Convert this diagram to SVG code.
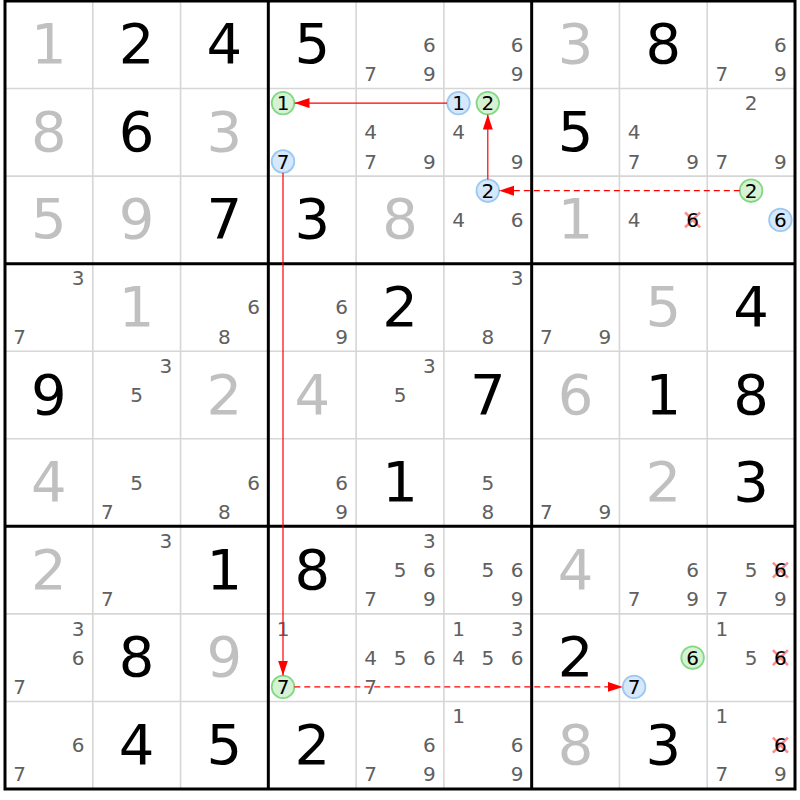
<svg xmlns="http://www.w3.org/2000/svg" width="800" height="800" viewBox="0 0 800 800">
<defs>
<style>
text{font-family:"DejaVu Sans","Verdana",sans-serif;text-anchor:middle}
.g{font-size:56px;fill:#000}
.s{font-size:56px;fill:#c0c0c0}
.c{font-size:20px;fill:#606060}
.k{font-size:20px;fill:#000}
.thin{stroke:#d6d6d6;stroke-width:1.6;fill:none}
.thick{stroke:#000;stroke-width:3;fill:none}
.gc{fill:#d5f2d5;stroke:#84d884;stroke-width:1.8}
.bc{fill:#d6e8fb;stroke:#9cc8f2;stroke-width:1.8}
.x{stroke:#ff8c8c;stroke-width:2.6}
.arr{stroke:#ff0000;stroke-width:1.2;fill:none}
.dash{stroke-dasharray:6 4}
</style>
<marker id="ah" markerUnits="userSpaceOnUse" markerWidth="16" markerHeight="11" refX="15" refY="5" orient="auto">
<path d="M0,0 L15,5 L0,10 z" fill="#ff0000"/>
</marker>
</defs>
<rect x="0" y="0" width="800" height="800" fill="#fff"/>
<g id="grid">
<path class="thin" d="M92.78,1V789M180.56,1V789M356.11,1V789M443.89,1V789M619.44,1V789M707.22,1V789M5,88.56H795M5,176.11H795M5,351.22H795M5,438.78H795M5,613.89H795M5,701.44H795"/>
<path class="thick" d="M268.33,1V789M531.67,1V789M5,263.67H795M5,526.33H795"/>
<rect class="thick" x="5" y="1" width="790" height="788"/>
</g>
<g id="highlights">
<circle class="gc" cx="283" cy="103.1" r="11.3"/>
<circle class="bc" cx="283" cy="161.5" r="11.3"/>
<circle class="bc" cx="458.5" cy="103.1" r="11.3"/>
<circle class="gc" cx="487.8" cy="103.1" r="11.3"/>
<circle class="bc" cx="487.8" cy="190.7" r="11.3"/>
<circle class="gc" cx="751.1" cy="190.7" r="11.3"/>
<circle class="bc" cx="780.4" cy="219.9" r="11.3"/>
<circle class="gc" cx="283" cy="686.9" r="11.3"/>
<circle class="bc" cx="634.1" cy="686.9" r="11.3"/>
<circle class="gc" cx="692.6" cy="657.7" r="11.3"/>
<path class="x" d="M685.1,212.4l15,15m0,-15l-15,15M772.9,562.6l15,15m0,-15l-15,15M772.9,650.2l15,15m0,-15l-15,15M772.9,737.7l15,15m0,-15l-15,15"/>
</g>
<g id="row0">
<g id="r0c0"><text class="s" x="48.89" y="63.3">1</text></g>
<g id="r0c1"><text class="g" x="136.67" y="63.3">2</text></g>
<g id="r0c2"><text class="g" x="224.44" y="63.3">4</text></g>
<g id="r0c3"><text class="g" x="312.22" y="63.3">5</text></g>
<g id="r0c4"><text class="c" x="429.3" y="51.8">6</text><text class="c" x="370.7" y="81">7</text><text class="c" x="429.3" y="81">9</text></g>
<g id="r0c5"><text class="c" x="517" y="51.8">6</text><text class="c" x="517" y="81">9</text></g>
<g id="r0c6"><text class="s" x="575.56" y="63.3">3</text></g>
<g id="r0c7"><text class="g" x="663.33" y="63.3">8</text></g>
<g id="r0c8"><text class="c" x="780.4" y="51.8">6</text><text class="c" x="721.9" y="81">7</text><text class="c" x="780.4" y="81">9</text></g>
</g>
<g id="row1">
<g id="r1c0"><text class="s" x="48.89" y="150.8">8</text></g>
<g id="r1c1"><text class="g" x="136.67" y="150.8">6</text></g>
<g id="r1c2"><text class="s" x="224.44" y="150.8">3</text></g>
<g id="r1c3"><text class="k" x="283" y="110.1">1</text><text class="k" x="283" y="168.5">7</text></g>
<g id="r1c4"><text class="c" x="370.7" y="139.3">4</text><text class="c" x="370.7" y="168.5">7</text><text class="c" x="429.3" y="168.5">9</text></g>
<g id="r1c5"><text class="k" x="458.5" y="110.1">1</text><text class="k" x="487.8" y="110.1">2</text><text class="c" x="458.5" y="139.3">4</text><text class="c" x="517" y="168.5">9</text></g>
<g id="r1c6"><text class="g" x="575.56" y="150.8">5</text></g>
<g id="r1c7"><text class="c" x="634.1" y="139.3">4</text><text class="c" x="634.1" y="168.5">7</text><text class="c" x="692.6" y="168.5">9</text></g>
<g id="r1c8"><text class="c" x="751.1" y="110.1">2</text><text class="c" x="721.9" y="168.5">7</text><text class="c" x="780.4" y="168.5">9</text></g>
</g>
<g id="row2">
<g id="r2c0"><text class="s" x="48.89" y="238.4">5</text></g>
<g id="r2c1"><text class="s" x="136.67" y="238.4">9</text></g>
<g id="r2c2"><text class="g" x="224.44" y="238.4">7</text></g>
<g id="r2c3"><text class="g" x="312.22" y="238.4">3</text></g>
<g id="r2c4"><text class="s" x="400" y="238.4">8</text></g>
<g id="r2c5"><text class="k" x="487.8" y="197.7">2</text><text class="c" x="458.5" y="226.9">4</text><text class="c" x="517" y="226.9">6</text></g>
<g id="r2c6"><text class="s" x="575.56" y="238.4">1</text></g>
<g id="r2c7"><text class="c" x="634.1" y="226.9">4</text><text class="k" x="692.6" y="226.9">6</text></g>
<g id="r2c8"><text class="k" x="751.1" y="197.7">2</text><text class="k" x="780.4" y="226.9">6</text></g>
</g>
<g id="row3">
<g id="r3c0"><text class="c" x="78.2" y="285.2">3</text><text class="c" x="19.6" y="343.6">7</text></g>
<g id="r3c1"><text class="s" x="136.67" y="325.9">1</text></g>
<g id="r3c2"><text class="c" x="253.7" y="314.4">6</text><text class="c" x="224.4" y="343.6">8</text></g>
<g id="r3c3"><text class="c" x="341.5" y="314.4">6</text><text class="c" x="341.5" y="343.6">9</text></g>
<g id="r3c4"><text class="g" x="400" y="325.9">2</text></g>
<g id="r3c5"><text class="c" x="517" y="285.2">3</text><text class="c" x="487.8" y="343.6">8</text></g>
<g id="r3c6"><text class="c" x="546.3" y="343.6">7</text><text class="c" x="604.8" y="343.6">9</text></g>
<g id="r3c7"><text class="s" x="663.33" y="325.9">5</text></g>
<g id="r3c8"><text class="g" x="751.11" y="325.9">4</text></g>
</g>
<g id="row4">
<g id="r4c0"><text class="g" x="48.89" y="413.5">9</text></g>
<g id="r4c1"><text class="c" x="165.9" y="372.8">3</text><text class="c" x="136.7" y="402">5</text></g>
<g id="r4c2"><text class="s" x="224.44" y="413.5">2</text></g>
<g id="r4c3"><text class="s" x="312.22" y="413.5">4</text></g>
<g id="r4c4"><text class="c" x="429.3" y="372.8">3</text><text class="c" x="400" y="402">5</text></g>
<g id="r4c5"><text class="g" x="487.78" y="413.5">7</text></g>
<g id="r4c6"><text class="s" x="575.56" y="413.5">6</text></g>
<g id="r4c7"><text class="g" x="663.33" y="413.5">1</text></g>
<g id="r4c8"><text class="g" x="751.11" y="413.5">8</text></g>
</g>
<g id="row5">
<g id="r5c0"><text class="s" x="48.89" y="501.1">4</text></g>
<g id="r5c1"><text class="c" x="136.7" y="489.6">5</text><text class="c" x="107.4" y="518.8">7</text></g>
<g id="r5c2"><text class="c" x="253.7" y="489.6">6</text><text class="c" x="224.4" y="518.8">8</text></g>
<g id="r5c3"><text class="c" x="341.5" y="489.6">6</text><text class="c" x="341.5" y="518.8">9</text></g>
<g id="r5c4"><text class="g" x="400" y="501.1">1</text></g>
<g id="r5c5"><text class="c" x="487.8" y="489.6">5</text><text class="c" x="487.8" y="518.8">8</text></g>
<g id="r5c6"><text class="c" x="546.3" y="518.8">7</text><text class="c" x="604.8" y="518.8">9</text></g>
<g id="r5c7"><text class="s" x="663.33" y="501.1">2</text></g>
<g id="r5c8"><text class="g" x="751.11" y="501.1">3</text></g>
</g>
<g id="row6">
<g id="r6c0"><text class="s" x="48.89" y="588.6">2</text></g>
<g id="r6c1"><text class="c" x="165.9" y="547.9">3</text><text class="c" x="107.4" y="606.3">7</text></g>
<g id="r6c2"><text class="g" x="224.44" y="588.6">1</text></g>
<g id="r6c3"><text class="g" x="312.22" y="588.6">8</text></g>
<g id="r6c4"><text class="c" x="429.3" y="547.9">3</text><text class="c" x="400" y="577.1">5</text><text class="c" x="429.3" y="577.1">6</text><text class="c" x="370.7" y="606.3">7</text><text class="c" x="429.3" y="606.3">9</text></g>
<g id="r6c5"><text class="c" x="487.8" y="577.1">5</text><text class="c" x="517" y="577.1">6</text><text class="c" x="517" y="606.3">9</text></g>
<g id="r6c6"><text class="s" x="575.56" y="588.6">4</text></g>
<g id="r6c7"><text class="c" x="692.6" y="577.1">6</text><text class="c" x="634.1" y="606.3">7</text><text class="c" x="692.6" y="606.3">9</text></g>
<g id="r6c8"><text class="c" x="751.1" y="577.1">5</text><text class="k" x="780.4" y="577.1">6</text><text class="c" x="721.9" y="606.3">7</text><text class="c" x="780.4" y="606.3">9</text></g>
</g>
<g id="row7">
<g id="r7c0"><text class="c" x="78.2" y="635.5">3</text><text class="c" x="78.2" y="664.7">6</text><text class="c" x="19.6" y="693.9">7</text></g>
<g id="r7c1"><text class="g" x="136.67" y="676.2">8</text></g>
<g id="r7c2"><text class="s" x="224.44" y="676.2">9</text></g>
<g id="r7c3"><text class="c" x="283" y="635.5">1</text><text class="k" x="283" y="693.9">7</text></g>
<g id="r7c4"><text class="c" x="370.7" y="664.7">4</text><text class="c" x="400" y="664.7">5</text><text class="c" x="429.3" y="664.7">6</text><text class="c" x="370.7" y="693.9">7</text></g>
<g id="r7c5"><text class="c" x="458.5" y="635.5">1</text><text class="c" x="517" y="635.5">3</text><text class="c" x="458.5" y="664.7">4</text><text class="c" x="487.8" y="664.7">5</text><text class="c" x="517" y="664.7">6</text></g>
<g id="r7c6"><text class="g" x="575.56" y="676.2">2</text></g>
<g id="r7c7"><text class="k" x="692.6" y="664.7">6</text><text class="k" x="634.1" y="693.9">7</text></g>
<g id="r7c8"><text class="c" x="721.9" y="635.5">1</text><text class="c" x="751.1" y="664.7">5</text><text class="k" x="780.4" y="664.7">6</text></g>
</g>
<g id="row8">
<g id="r8c0"><text class="c" x="78.2" y="752.2">6</text><text class="c" x="19.6" y="781.4">7</text></g>
<g id="r8c1"><text class="g" x="136.67" y="763.7">4</text></g>
<g id="r8c2"><text class="g" x="224.44" y="763.7">5</text></g>
<g id="r8c3"><text class="g" x="312.22" y="763.7">2</text></g>
<g id="r8c4"><text class="c" x="429.3" y="752.2">6</text><text class="c" x="370.7" y="781.4">7</text><text class="c" x="429.3" y="781.4">9</text></g>
<g id="r8c5"><text class="c" x="458.5" y="723">1</text><text class="c" x="517" y="752.2">6</text><text class="c" x="517" y="781.4">9</text></g>
<g id="r8c6"><text class="s" x="575.56" y="763.7">8</text></g>
<g id="r8c7"><text class="g" x="663.33" y="763.7">3</text></g>
<g id="r8c8"><text class="c" x="721.9" y="723">1</text><text class="k" x="780.4" y="752.2">6</text><text class="c" x="721.9" y="781.4">7</text><text class="c" x="780.4" y="781.4">9</text></g>
</g>
<g id="connectors">
<line class="arr" x1="447" y1="103.1" x2="294.5" y2="103.1" marker-end="url(#ah)"/>
<line class="arr" x1="487.8" y1="179.4" x2="487.8" y2="114.5" marker-end="url(#ah)"/>
<line class="arr dash" x1="739.8" y1="190.7" x2="499.2" y2="190.7" marker-end="url(#ah)"/>
<line class="arr" x1="283" y1="172.8" x2="283" y2="675.5" marker-end="url(#ah)"/>
<line class="arr dash" x1="294.3" y1="686.9" x2="622.8" y2="686.9" marker-end="url(#ah)"/>
</g>
</svg>
